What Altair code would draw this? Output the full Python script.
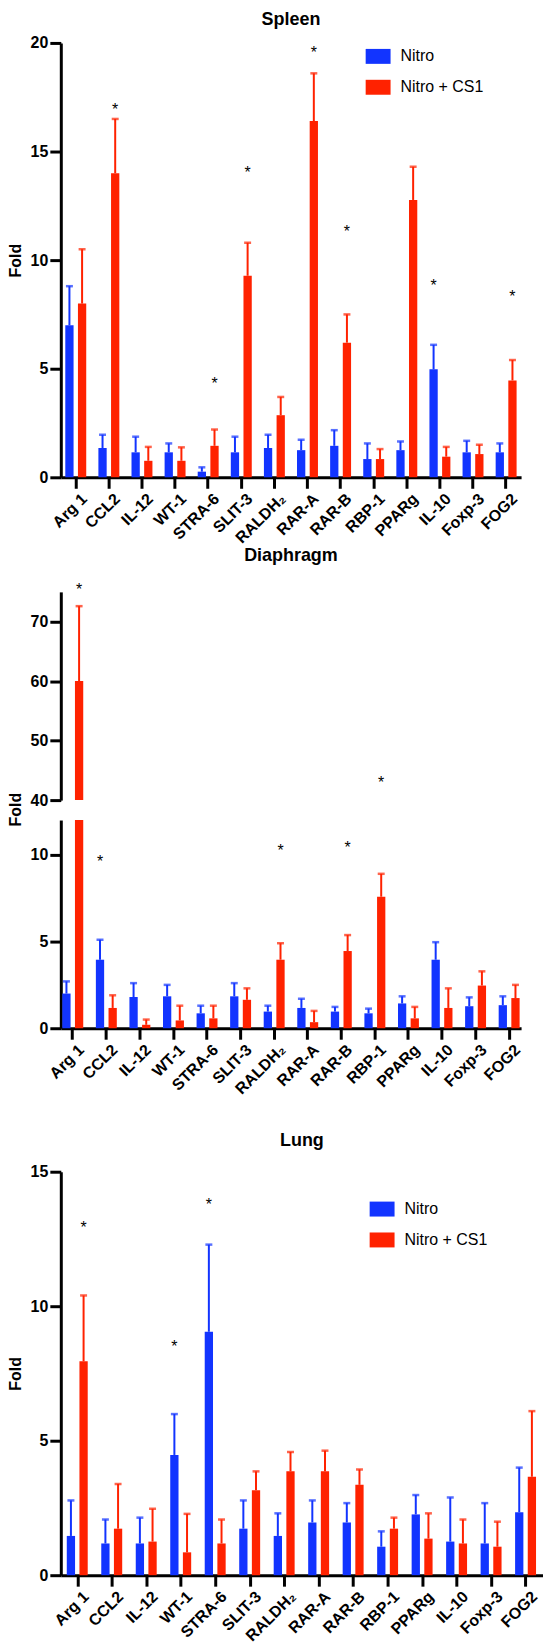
import altair as alt
import pandas as pd

genes = ["Arg 1", "CCL2", "IL-12", "WT-1", "STRA-6", "SLIT-3", "RALDH₂",
         "RAR-A", "RAR-B", "RBP-1", "PPARg", "IL-10", "Foxp-3", "FOG2"]
groups = ["Nitro", "Nitro + CS1"]
colors = ["#1234FF", "#FF2200"]

# ---- Spleen ----
spleen_nitro = [7.0, 1.35, 1.15, 1.15, 0.26, 1.15, 1.35, 1.25, 1.45, 0.84, 1.25, 4.97, 1.15, 1.15]
spleen_nitro_err = [8.8, 1.96, 1.87, 1.56, 0.46, 1.87, 1.96, 1.73, 2.17, 1.56, 1.65, 6.1, 1.68, 1.56]
spleen_cs1 = [8.0, 14.0, 0.76, 0.76, 1.45, 9.28, 2.86, 16.4, 6.2, 0.84, 12.77, 0.95, 1.07, 4.46]
spleen_cs1_err = [10.5, 16.5, 1.4, 1.38, 2.2, 10.8, 3.7, 18.6, 7.5, 1.3, 14.3, 1.4, 1.5, 5.4]
spleen_star_genes = ["CCL2", "STRA-6", "SLIT-3", "RAR-A", "RAR-B", "IL-10", "FOG2"]
spleen_star_groups = ["Nitro + CS1", "Nitro + CS1", "Nitro + CS1", "Nitro + CS1", "Nitro + CS1", "Nitro", "Nitro + CS1"]
spleen_star_y = [17.1, 4.46, 14.2, 19.7, 11.5, 9.0, 8.5]

# ---- Diaphragm ----
dia_nitro = [2.0, 3.95, 1.8, 1.84, 0.86, 1.84, 0.96, 1.17, 0.96, 0.86, 1.43, 3.95, 1.27, 1.33]
dia_nitro_err = [2.7, 5.1, 2.6, 2.5, 1.3, 2.6, 1.3, 1.7, 1.23, 1.13, 1.84, 4.96, 1.78, 1.84]
dia_cs1 = [60.0, 1.17, 0.2, 0.45, 0.57, 1.64, 3.95, 0.35, 4.45, 7.58, 0.57, 1.17, 2.46, 1.74]
dia_cs1_err = [72.6, 1.9, 0.5, 1.3, 1.3, 2.3, 4.9, 1.0, 5.37, 8.9, 1.23, 2.3, 3.28, 2.5]
dia_star_genes = ["Arg 1", "CCL2", "RALDH₂", "RAR-B", "RBP-1"]
dia_star_groups = ["Nitro + CS1", "Nitro", "Nitro + CS1", "Nitro + CS1", "Nitro + CS1"]
dia_star_y = [76.0, 9.8, 10.45, 10.6, 43.6]

# ---- Lung ----
lung_nitro = [1.46, 1.18, 1.18, 4.47, 9.05, 1.73, 1.46, 1.96, 1.96, 1.06, 2.26, 1.25, 1.18, 2.34]
lung_nitro_err = [2.78, 2.07, 2.14, 5.99, 12.29, 2.78, 2.3, 2.78, 2.68, 1.63, 2.98, 2.89, 2.68, 4.0]
lung_cs1 = [7.95, 1.73, 1.25, 0.85, 1.18, 3.16, 3.86, 3.86, 3.36, 1.73, 1.36, 1.18, 1.06, 3.66]
lung_cs1_err = [10.4, 3.39, 2.47, 2.28, 2.07, 3.86, 4.58, 4.63, 3.93, 2.14, 2.3, 2.07, 1.99, 6.1]
lung_star_genes = ["Arg 1", "WT-1", "STRA-6"]
lung_star_groups = ["Nitro + CS1", "Nitro", "Nitro"]
lung_star_y = [13.05, 8.63, 13.9]


def long_df(nitro, nitro_err, cs1, cs1_err):
    rows = []
    for i, g in enumerate(genes):
        rows.append({"gene": g, "group": groups[0], "value": nitro[i], "err": nitro_err[i]})
        rows.append({"gene": g, "group": groups[1], "value": cs1[i], "err": cs1_err[i]})
    return pd.DataFrame(rows)


def star_df(g, grp, s):
    return pd.DataFrame({"gene": g, "group": grp, "s": s})


RECT = "M-1,-0.6H1V0.6H-1Z"


def color_enc(lx, ly):
    return alt.Color("group:N", sort=groups,
                     scale=alt.Scale(domain=groups, range=colors),
                     legend=alt.Legend(orient="none", legendX=lx, legendY=ly, title=None,
                                       symbolType=RECT, symbolSize=625, symbolStrokeWidth=0,
                                       symbolOpacity=1, labelFontSize=16, labelFont="Liberation Sans",
                                       labelColor="black", labelOffset=10, rowPadding=10, padding=0))


stroke_enc = alt.Stroke("group:N", scale=alt.Scale(domain=groups, range=colors), legend=None)
fill_enc = alt.Fill("group:N", scale=alt.Scale(domain=groups, range=colors), legend=None)


def xenc(pi, po):
    return alt.X("gene:N", sort=genes, scale=alt.Scale(paddingInner=pi, paddingOuter=po),
                 axis=alt.Axis(title=None))


def xoff(p):
    return alt.XOffset("group:N", sort=groups, scale=alt.Scale(paddingInner=p, paddingOuter=0))


def simple_panel(df, sdf, title, ymax, yvals, W, H, pi, po, psub, lx, ly, toff):
    x = xenc(pi, po)
    xo = xoff(psub)
    sc = alt.Scale(domain=[0, ymax], nice=False)
    ax = alt.Axis(values=yvals, title="Fold", titleX=-37)
    base = alt.Chart(df)
    bars = base.mark_bar().encode(x=x, xOffset=xo, y=alt.Y("value:Q", scale=sc, axis=ax),
                                  color=color_enc(lx, ly))
    rules = base.mark_rule(strokeWidth=2).encode(x=x, xOffset=xo,
                                                 y=alt.Y("value:Q", scale=sc, axis=ax),
                                                 y2="err:Q", stroke=stroke_enc)
    caps = base.mark_tick(orient="horizontal", size=7, thickness=2.5).encode(
        x=x, xOffset=xo, y=alt.Y("err:Q", scale=sc, axis=ax), fill=fill_enc)
    stars = alt.Chart(sdf).mark_text(text="*", fontSize=16, dy=4, color="black").encode(
        x=x, xOffset=xo, y=alt.Y("s:Q", scale=sc, axis=ax))
    return alt.layer(bars, rules, caps, stars).properties(
        width=W, height=H, title=alt.TitleParams(title, offset=toff))


spleen = simple_panel(long_df(spleen_nitro, spleen_nitro_err, spleen_cs1, spleen_cs1_err),
                      star_df(spleen_star_genes, spleen_star_groups, spleen_star_y),
                      "Spleen", 20, [0, 5, 10, 15, 20], 462, 436, 0.3675, 0.1355, 0.346,
                      306, 1, 6)

lung = simple_panel(long_df(lung_nitro, lung_nitro_err, lung_cs1, lung_cs1_err),
                    star_df(lung_star_genes, lung_star_groups, lung_star_y),
                    "Lung", 15, [0, 5, 10, 15], 484, 405, 0.3642, 0.1734, 0.308,
                    310, 25, 14)

# Diaphragm with broken axis
dia_df = long_df(dia_nitro, dia_nitro_err, dia_cs1, dia_cs1_err)
dia_sdf = star_df(dia_star_genes, dia_star_groups, dia_star_y)
xd = xenc(0.3769, 0.0445)
xod = xoff(0.346)
top_sc = alt.Scale(domain=[40, 75], range=[209, 0], nice=False, zero=False)
bot_sc = alt.Scale(domain=[0, 12], range=[438, 229], nice=False)
ax_top = alt.Axis(values=[40, 50, 60, 70], title=None, orient="left")
ax_bot = alt.Axis(values=[0, 5, 10], title="Fold", titleX=-37, titleY=218, orient="left")

dbase = alt.Chart(dia_df)
top_bars = dbase.transform_filter("datum.value > 40").mark_bar().encode(
    x=xd, xOffset=xod, y=alt.Y("value:Q", scale=top_sc, axis=ax_top), y2=alt.datum(40),
    color=color_enc(252, 24))
top_rules = dbase.transform_filter("datum.value > 40").mark_rule(strokeWidth=2).encode(
    x=xd, xOffset=xod, y=alt.Y("value:Q", scale=top_sc, axis=ax_top), y2="err:Q", stroke=stroke_enc)
top_caps = dbase.transform_filter("datum.value > 40").mark_tick(orient="horizontal", size=7, thickness=2.5).encode(
    x=xd, xOffset=xod, y=alt.Y("err:Q", scale=top_sc, axis=ax_top), fill=fill_enc)
top_stars = alt.Chart(dia_sdf).transform_filter("datum.s > 20").mark_text(
    text="*", fontSize=16, dy=4, color="black").encode(
    x=xd, xOffset=xod, y=alt.Y("s:Q", scale=top_sc, axis=ax_top))
top = alt.layer(top_bars, top_rules, top_caps, top_stars)

bot_bars = dbase.transform_calculate(vc="min(datum.value, 12)").mark_bar().encode(
    x=xd, xOffset=xod, y=alt.Y("vc:Q", scale=bot_sc, axis=ax_bot), color=color_enc(252, 24))
bot_rules = dbase.transform_filter("datum.value <= 12").mark_rule(strokeWidth=2).encode(
    x=xd, xOffset=xod, y=alt.Y("value:Q", scale=bot_sc, axis=ax_bot), y2="err:Q", stroke=stroke_enc)
bot_caps = dbase.transform_filter("datum.value <= 12").mark_tick(orient="horizontal", size=7, thickness=2.5).encode(
    x=xd, xOffset=xod, y=alt.Y("err:Q", scale=bot_sc, axis=ax_bot), fill=fill_enc)
bot_stars = alt.Chart(dia_sdf).transform_filter("datum.s <= 20").mark_text(
    text="*", fontSize=16, dy=4, color="black").encode(
    x=xd, xOffset=xod, y=alt.Y("s:Q", scale=bot_sc, axis=ax_bot))
bottom = alt.layer(bot_bars, bot_rules, bot_caps, bot_stars)

dia = alt.layer(top, bottom).resolve_scale(y="independent").properties(
    width=462, height=438, title=alt.TitleParams("Diaphragm", offset=17))

upper = alt.vconcat(spleen, dia, spacing=1)
chart = alt.vconcat(upper, lung, spacing=35).resolve_scale(
    color="independent").resolve_legend(color="independent").properties(padding=0)

chart = chart.configure(font="Liberation Sans").configure_view(strokeWidth=0).configure_axis(
    domainColor="black", domainWidth=3, tickColor="black", tickWidth=3, tickSize=11,
    labelColor="black", labelFont="Liberation Sans", labelFontSize=16, labelFontWeight="bold",
    titleFont="Liberation Sans", titleFontSize=16, titleFontWeight="bold", titleColor="black",
    grid=False, labelPadding=2
).configure_axisX(labelFontSize=16, labelAngle=-45, labelAlign="right", labelBaseline="top",
                  labelPadding=2, labelOffset=3
).configure_title(font="Liberation Sans", fontSize=18, fontWeight="bold", color="black",
                  anchor="middle", frame="group")

chart.save("out.html", embed_options={"renderer": "svg", "actions": False})
